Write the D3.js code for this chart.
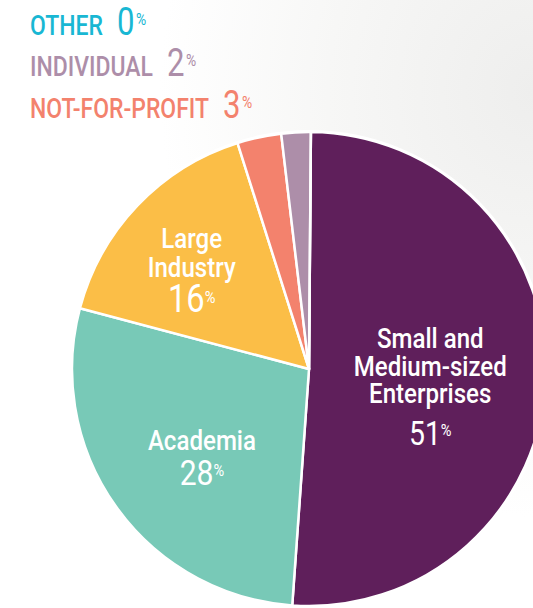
<!DOCTYPE html>
<html>
<head>
<meta charset="utf-8">
<script src="https://cdn.jsdelivr.net/npm/d3@7"></script>
<style>
  body { margin: 0; background: #fff; }
  svg { display: block; }
  text { font-family: "Roboto", "Liberation Sans", sans-serif; font-weight: 500; }
</style>
</head>
<body>
<div id="chart"></div>
<script>
// sector shares, in drawing order (clockwise from 12 o'clock)
var sectors = ["Small and Medium-sized Enterprises", "Academia", "Large Industry", "Not-for-profit", "Individual", "Other"];
var shares = [51, 28, 16, 3, 2, 0];
var colors = ["#5f1f5b", "#78c9b7", "#fbbe47", "#f3826d", "#ad8ea9", "#19b7d3"];

// label text inside the pie
var sliceLabels = [["Small and", "Medium-sized", "Enterprises"], ["Academia"], ["Large", "Industry"], [], [], []];

// small sectors listed top-left
var legendNames = ["OTHER", "INDIVIDUAL", "NOT-FOR-PROFIT"];
var legendValues = [0, 2, 3];
var legendColors = ["#19b7d3", "#ad8ea9", "#f3826d"];

var width = 533, height = 608;
var cx = 309, cy = 369, radius = 237;

var svg = d3.select("#chart").append("svg")
  .attr("width", width)
  .attr("height", height);

// soft grey background on the right
var defs = svg.append("defs");
var grad = defs.append("radialGradient")
  .attr("id", "bg")
  .attr("cx", 1).attr("cy", 0.15).attr("r", 0.7);
grad.append("stop").attr("offset", "0%").attr("stop-color", "#eeeeed");
grad.append("stop").attr("offset", "55%").attr("stop-color", "#f7f7f6");
grad.append("stop").attr("offset", "100%").attr("stop-color", "#ffffff");
svg.append("rect").attr("width", width).attr("height", height).attr("fill", "url(#bg)");

var data = sectors.map(function (s, i) {
  return { name: s, value: shares[i], color: colors[i], lines: sliceLabels[i] };
});

var pie = d3.pie().sort(null).value(function (d) { return d.value; })
  .startAngle(0.008).endAngle(2 * Math.PI + 0.008);
var arc = d3.arc().innerRadius(0).outerRadius(radius);
var labelArc = d3.arc().innerRadius(0).outerRadius(radius * 1.1);

var g = svg.append("g").attr("transform", "translate(" + cx + "," + cy + ")");

// white ring around the pie
g.append("circle").attr("r", radius + 2).attr("fill", "#fff");

g.selectAll("path.slice")
  .data(pie(data))
  .enter()
  .append("path")
  .attr("class", "slice")
  .attr("d", arc)
  .attr("fill", function (d) { return d.data.color; })
  .attr("stroke", "#fff")
  .attr("stroke-width", 2.5)
  .attr("stroke-linejoin", "round");

// label placement relative to the centroid: nudge, line step, gap to number, number size
var labelStyle = {
  0: { dx: -9, dy: -26, step: 27.5, gap: 42, size: 33 },
  1: { dx: -1, dy: 5.5, step: 28, gap: 35, size: 35 },
  2: { dx: -23, dy: -31, step: 29, gap: 35, size: 38 }
};
var squeeze = 0.86;

var labels = g.selectAll("g.slabel")
  .data(pie(data).filter(function (d) { return d.data.lines.length > 0; }))
  .enter()
  .append("g")
  .attr("class", "slabel")
  .attr("transform", function (d) {
    var c = labelArc.centroid(d);
    var s = labelStyle[d.index];
    return "translate(" + (c[0] + s.dx) + "," + (c[1] + s.dy) + ") scale(" + squeeze + ",1)";
  });

labels.each(function (d) {
  var sel = d3.select(this);
  var s = labelStyle[d.index];
  var n = d.data.lines.length;
  d.data.lines.forEach(function (line, i) {
    sel.append("text")
      .attr("text-anchor", "middle")
      .attr("y", i * s.step)
      .attr("fill", "#fff")
      .attr("font-size", 28)
      .text(line);
  });
  var pt = sel.append("text")
    .attr("text-anchor", "middle")
    .attr("y", (n - 1) * s.step + s.gap)
    .attr("fill", "#fff")
    .style("font-weight", 400)
    .attr("font-size", s.size);
  pt.append("tspan").text(d.data.value);
  pt.append("tspan").attr("font-size", 17).attr("dy", -9).text("%");
});

// legend for the small sectors
var legend = svg.append("g").attr("transform", "translate(30,0) scale(0.82,1)");
legendNames.forEach(function (name, i) {
  var t = legend.append("text")
    .attr("x", 0)
    .attr("y", 35 + i * 41.5)
    .attr("fill", legendColors[i]);
  t.append("tspan").attr("font-size", 28).text(name);
  t.append("tspan").attr("font-size", 38).attr("font-weight", 400).attr("dx", 17).text(legendValues[i]);
  t.append("tspan").attr("font-size", 17).attr("font-weight", 400).attr("dx", 2).attr("dy", -10).text("%");
});
</script>
</body>
</html>
